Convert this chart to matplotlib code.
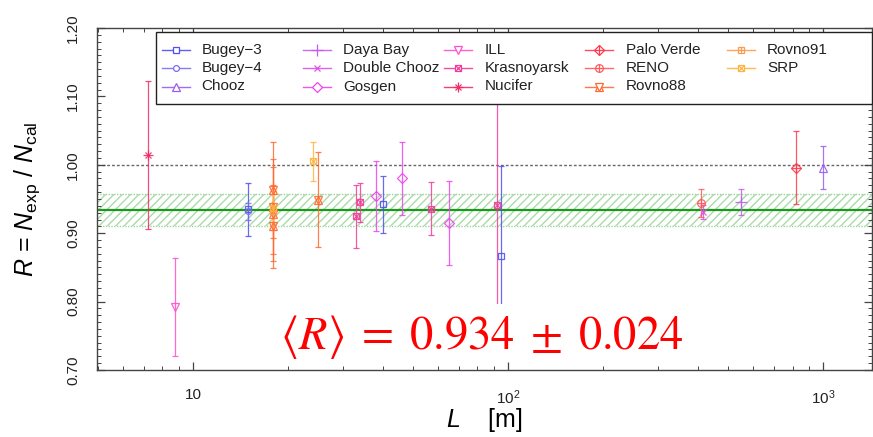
import matplotlib
matplotlib.use("Agg")
import matplotlib.pyplot as plt
import numpy as np
from matplotlib.lines import Line2D
from matplotlib.patches import Rectangle
from matplotlib.ticker import FixedLocator, MultipleLocator, LogLocator, NullFormatter

plt.rcParams['font.family'] = ['Liberation Sans', 'DejaVu Sans']
plt.rcParams['mathtext.fontset'] = 'custom'
plt.rcParams['mathtext.rm'] = 'Liberation Sans'
plt.rcParams['mathtext.it'] = 'Liberation Sans:italic'
plt.rcParams['mathtext.bf'] = 'Liberation Sans:bold'

# ---------------- data ----------------
names = ["Bugey−3", "Bugey−4", "Chooz", "Daya Bay", "Double Chooz", "Gosgen",
         "ILL", "Krasnoyarsk", "Nucifer", "Palo Verde", "RENO", "Rovno88",
         "Rovno91", "SRP"]

bugey3_L = [15, 40, 95]
bugey3_R = [0.935, 0.942, 0.867]
bugey3_err = [0.039, 0.041, 0.131]

bugey4_L = [15]
bugey4_R = [0.932]
bugey4_err = [0.012]

chooz_L = [1000]
chooz_R = [0.996]
chooz_err = [0.032]

dayabay_L = [550]
dayabay_R = [0.945]
dayabay_err = [0.019]

dchooz_L = [415]
dchooz_R = [0.931]
dchooz_err = [0.010]

gosgen_L = [38, 46, 65]
gosgen_R = [0.954, 0.980, 0.915]
gosgen_err = [0.051, 0.053, 0.061]

ill_L = [8.76]
ill_R = [0.792]
ill_err = [0.072]

kras_L = [33, 34, 57, 92]
kras_R = [0.925, 0.945, 0.936, 0.941]
kras_err = [0.046, 0.029, 0.039, 0.207]

nucifer_L = [7.2]
nucifer_R = [1.014]
nucifer_err = [0.108]

paloverde_L = [820]
paloverde_R = [0.996]
paloverde_err = [0.054]

reno_L = [411]
reno_R = [0.944]
reno_err = [0.020]

rovno88_L = [18, 18, 18, 18, 25]
rovno88_R = [0.963, 0.939, 0.928, 0.910, 0.949]
rovno88_err = [0.070, 0.070, 0.069, 0.061, 0.069]

rovno91_L = [18]
rovno91_R = [0.933]
rovno91_err = [0.029]

srp_L = [18, 24]
srp_R = [0.937, 1.005]
srp_err = [0.020, 0.029]

R_mean = 0.934
R_mean_err = 0.024

# ---------------- styles ----------------
colors = ['#4f4ff5', '#7a6cf2', '#9a5cf2', '#c25cf0', '#e050e8', '#ee44ee',
          '#ff4fcf', '#f03c98', '#ee2c66', '#ff3a4e', '#ff5a5a', '#ff6a30',
          '#ff9a4a', '#ffb440']
markers = [
    [('s', 5.0)],
    [('o', 4.2)],
    [('^', 6.0)],
    [('+', 8.0)],
    [('x', 5.0)],
    [('D', 5.0)],
    [('v', 6.0)],
    [('s', 5.0), ('x', 4.0)],
    [('+', 7.0), ('x', 5.0)],
    [('D', 5.5), ('+', 7.5)],
    [('o', 5.5), ('+', 5.5)],
    [('^', 6.0), ('v', 6.0)],
    [('s', 5.0), ('+', 5.0)],
    [('s', 5.0), ('x', 4.0)],
]
series = [
    (bugey3_L, bugey3_R, bugey3_err),
    (bugey4_L, bugey4_R, bugey4_err),
    (chooz_L, chooz_R, chooz_err),
    (dayabay_L, dayabay_R, dayabay_err),
    (dchooz_L, dchooz_R, dchooz_err),
    (gosgen_L, gosgen_R, gosgen_err),
    (ill_L, ill_R, ill_err),
    (kras_L, kras_R, kras_err),
    (nucifer_L, nucifer_R, nucifer_err),
    (paloverde_L, paloverde_R, paloverde_err),
    (reno_L, reno_R, reno_err),
    (rovno88_L, rovno88_R, rovno88_err),
    (rovno91_L, rovno91_R, rovno91_err),
    (srp_L, srp_R, srp_err),
]

W, H = 873, 437
fig = plt.figure(figsize=(W / 100, H / 100), dpi=100)
ax = fig.add_axes([97 / W, 1 - 370 / H, 775 / W, 342 / H])

ax.set_xscale('log')
ax.set_xlim(4.96, 1430)
ax.set_ylim(0.70, 1.20)

# band and reference lines
ax.axhspan(R_mean - R_mean_err, R_mean + R_mean_err, facecolor='none',
           edgecolor='#a9dca9', hatch='////', linewidth=0, zorder=0.5)
for yv in (R_mean - R_mean_err, R_mean + R_mean_err):
    ax.axhline(yv, color='#9ed49e', lw=1.0, ls=(0, (1, 1)), zorder=0.6)
ax.axhline(R_mean, color='#1a9a1a', lw=1.6, zorder=1.5)
ax.axhline(1.0, color='#666666', lw=1.0, ls=(0, (2, 1.5)), zorder=0.7)

# data
for (L, R, e), c, mk in zip(series, colors, markers):
    ax.errorbar(L, R, yerr=e, fmt='none', ecolor=c, elinewidth=0.9,
                capsize=2.0, capthick=0.9, alpha=0.85, zorder=2)
    for m, s in mk:
        ax.plot(L, R, ls='none', marker=m, ms=s, mfc='none', mec=c,
                mew=0.9, alpha=0.9, zorder=2.1)

# annotation
ax.text(0.497, 0.096, r'$\langle R\rangle\;=\;0.934\;\pm\;0.024$',
        transform=ax.transAxes, ha='center', va='center', fontsize=33.5,
        color='#ff0000', math_fontfamily='stix', zorder=2.3,
        bbox=dict(boxstyle='square,pad=0.2', facecolor='white',
                  edgecolor='none'))

# ticks
ax.set_axisbelow(False)
ax.xaxis.set_major_locator(FixedLocator([10, 100, 1000]))
ax.set_xticklabels(['10', r'$10^2$', r'$10^3$'])
ax.xaxis.set_minor_locator(LogLocator(base=10, subs=np.arange(2, 10)))
ax.xaxis.set_minor_formatter(NullFormatter())
yt = [0.70, 0.80, 0.90, 1.00, 1.10, 1.20]
ax.set_yticks(yt)
ax.set_yticklabels(['%.2f' % v for v in yt], rotation=90, va='center')
ax.yaxis.set_minor_locator(MultipleLocator(0.01))
ax.tick_params(which='both', direction='in', top=True, right=True,
               colors='#444444', labelcolor='#222222')
ax.tick_params(which='major', length=6, width=0.9, labelsize=11)
ax.tick_params(which='minor', length=3, width=0.7)
ax.tick_params(axis='x', which='major', pad=13)
ax.tick_params(axis='y', which='major', pad=12)
for sp in ax.spines.values():
    sp.set_color('#444444')
    sp.set_linewidth(1.0)

ax.set_xlabel(r'$L$    [m]', fontsize=18)
ax.set_ylabel(r'$R$ = $N_{\mathrm{exp}}$ / $N_{\mathrm{cal}}$', fontsize=18)
ax.xaxis.set_label_coords(0.5, -0.105)
ax.yaxis.set_label_coords(-0.071, 0.5)

# legend (manual, ROOT-like fixed columns)
def fx(x):
    return x / W

def fy(y):
    return 1 - y / H

fig.add_artist(Rectangle((fx(156), fy(104)), fx(872) - fx(156), fy(32) - fy(104),
                         transform=fig.transFigure, facecolor='white',
                         edgecolor='#222222', lw=1.0, zorder=5))
for i, (nm, c, mk) in enumerate(zip(names, colors, markers)):
    col, row = divmod(i, 3)
    x0 = 161.5 + col * 141.3
    yc = 49.7 + row * 18.4
    fig.add_artist(Line2D([fx(x0), fx(x0 + 28)], [fy(yc), fy(yc)],
                          transform=fig.transFigure, color=c, lw=1.0,
                          alpha=0.9, zorder=6))
    for m, s in mk:
        fig.add_artist(Line2D([fx(x0 + 14)], [fy(yc)], transform=fig.transFigure,
                              ls='none', marker=m, ms=s, mfc='white' if m in 'so^vD' else 'none',
                              mec=c, mew=0.9, zorder=7))
    fig.text(fx(201.6 + col * 141.4), fy(yc), nm, ha='left', va='center',
             fontsize=11, color='#222222', zorder=8)

fig.savefig('out.png', dpi=100)
